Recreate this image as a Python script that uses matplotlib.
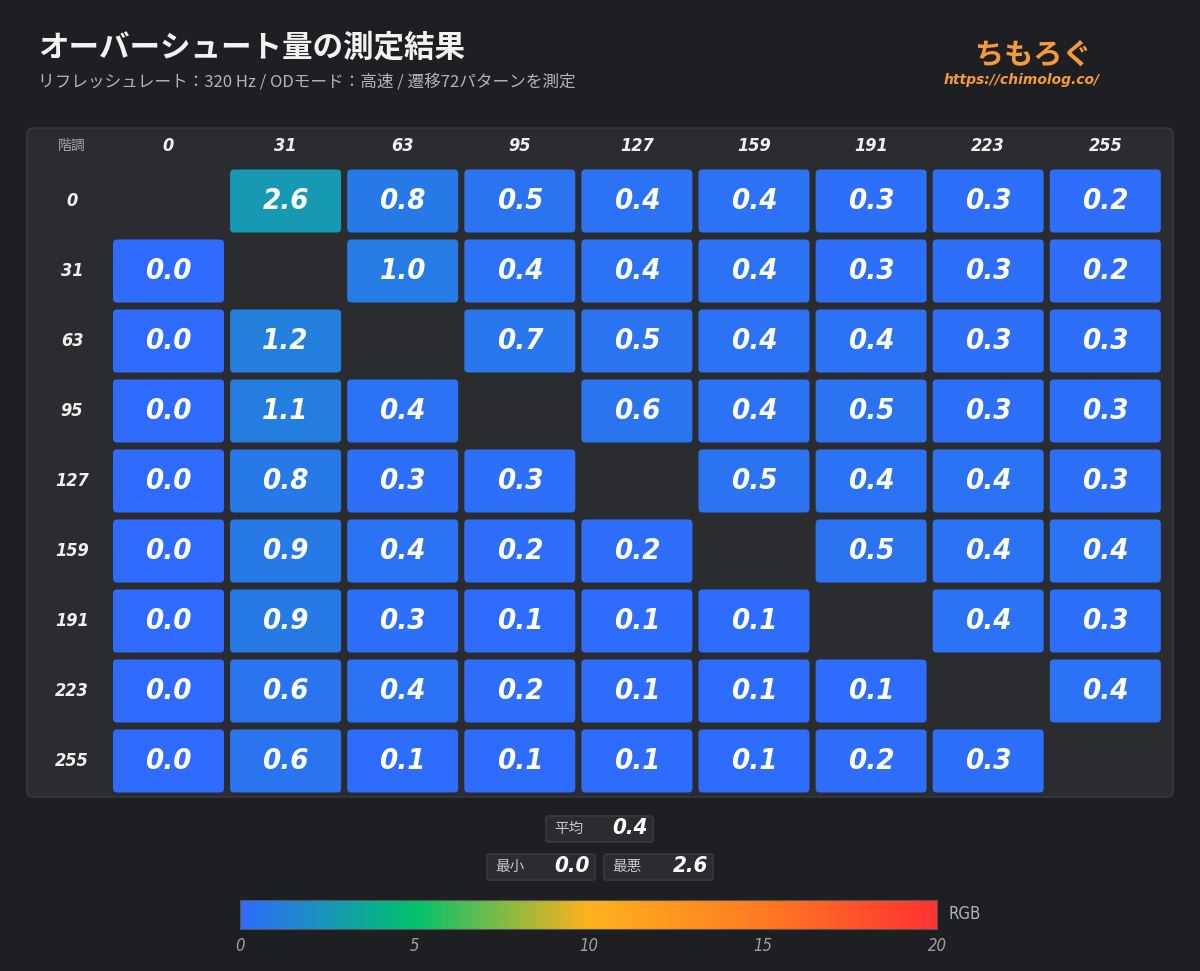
import numpy as np
import matplotlib
matplotlib.use("Agg")
import matplotlib.pyplot as plt
from matplotlib import font_manager
from matplotlib.colors import LinearSegmentedColormap, Normalize
from matplotlib.patches import FancyBboxPatch

levels = [0, 31, 63, 95, 127, 159, 191, 223, 255]
nan = np.nan
overshoot = [
    [nan, 2.6, 0.8, 0.5, 0.4, 0.4, 0.3, 0.3, 0.2],
    [0.0, nan, 1.0, 0.4, 0.4, 0.4, 0.3, 0.3, 0.2],
    [0.0, 1.2, nan, 0.7, 0.5, 0.4, 0.4, 0.3, 0.3],
    [0.0, 1.1, 0.4, nan, 0.6, 0.4, 0.5, 0.3, 0.3],
    [0.0, 0.8, 0.3, 0.3, nan, 0.5, 0.4, 0.4, 0.3],
    [0.0, 0.9, 0.4, 0.2, 0.2, nan, 0.5, 0.4, 0.4],
    [0.0, 0.9, 0.3, 0.1, 0.1, 0.1, nan, 0.4, 0.3],
    [0.0, 0.6, 0.4, 0.2, 0.1, 0.1, 0.1, nan, 0.4],
    [0.0, 0.6, 0.1, 0.1, 0.1, 0.1, 0.2, 0.3, nan],
]
cbar_ticks = [0, 5, 10, 15, 20]
title = "オーバーシュート量の測定結果"
subtitle = "リフレッシュレート：320 Hz / ODモード：高速 / 遷移72パターンを測定"

data = np.array(overshoot)
avg = np.nanmean(data)
vmin = np.nanmin(data)
vmax = np.nanmax(data)

# condensed font for numbers if there is one
cond = [f for f in font_manager.fontManager.ttflist if "ondensed" in f.fname or "Narrow" in f.name]
num_font = "DejaVu Sans"
num_stretch = "condensed" if cond else "normal"
jp = ["Noto Sans CJK JP", "DejaVu Sans"]

bg = "#1e1f22"
panel = "#2b2c2f"
cmap = LinearSegmentedColormap.from_list(
    "od", [(0, "#2f6bff"), (0.25, "#00c36e"), (0.5, "#ffb21e"), (0.75, "#ff7a22"), (1, "#ff3232")])
norm = Normalize(0, 20)

fig = plt.figure(figsize=(12, 9.71), dpi=100, facecolor=bg)
ax = fig.add_axes([0, 0, 1, 1])
ax.set_xlim(0, 1200)
ax.set_ylim(971, 0)
ax.axis("off")


def num(x, y, s, size, color="white", **kw):
    ax.text(x, y, s, family=num_font, fontstretch=num_stretch, fontsize=size,
            fontweight="bold", style="italic", color=color, **kw)


# title
ax.text(38, 48, title, family=jp, fontsize=22, fontweight="bold", color="#f2f2f2", va="center")
ax.text(38, 82, subtitle, family=jp, fontsize=12, color="#b4b4b4", va="center")
ax.text(1033, 55, "ちもろぐ", family=jp, fontsize=21, fontweight="bold", color="#f39a3c",
        ha="center", va="center")
ax.text(1022, 80, "https://chimolog.co/", family="DejaVu Sans", fontsize=10, fontweight="bold",
        style="italic", color="#f39a3c", ha="center", va="center")

# panel
ax.add_patch(FancyBboxPatch((27, 128), 1146, 669, boxstyle="round,pad=0,rounding_size=6",
                            fc=panel, ec="#3a3b3f", lw=1))

x0, dx = 168.5, 117.1
y0, dy = 201, 70
cw, ch = 111, 63
ax.text(72, 146, "階調", family=jp, fontsize=10, color="#a8a8a8", ha="center", va="center")
for j, lv in enumerate(levels):
    num(x0 + j * dx, 146, str(lv), 13, "#f0f0f0", ha="center", va="center")
for i, lv in enumerate(levels):
    yc = y0 + i * dy
    num(72, yc, str(lv), 13, "#f0f0f0", ha="center", va="center")
    for j in range(len(levels)):
        v = data[i, j]
        if np.isnan(v):
            continue
        xc = x0 + j * dx
        ax.add_patch(FancyBboxPatch((xc - cw / 2, yc - ch / 2), cw, ch,
                                    boxstyle="round,pad=0,rounding_size=4",
                                    fc=cmap(norm(v)), ec="none"))
        num(xc, yc, f"{v:.1f}", 21, ha="center", va="center")


# stats boxes
def stat_box(x, y, w, label, value):
    ax.add_patch(FancyBboxPatch((x, y), w, 26, boxstyle="round,pad=0,rounding_size=2",
                                fc="#2b2c2f", ec="#3c3d41", lw=1))
    ax.text(x + 8, y + 13, label, family=jp, fontsize=10.5, color="#c8c8c8", va="center")
    num(x + w - 5, y + 12, value, 16, ha="right", va="center")


stat_box(546, 816, 107, "平均", f"{avg:.1f}")
stat_box(487, 854, 108, "最小", f"{vmin:.1f}")
stat_box(604, 854, 109, "最悪", f"{vmax:.1f}")

# colorbar
cax = fig.add_axes([240 / 1200, 1 - 929 / 971, 697 / 1200, 29 / 971])
grad = np.linspace(0, 20, 512).reshape(1, -1)
cax.imshow(grad, aspect="auto", cmap=cmap, norm=norm, extent=[0, 20, 0, 1])
cax.set_yticks([])
cax.set_xticks(cbar_ticks)
cax.tick_params(length=0, pad=6, colors="#a0a0a0")
for lab in cax.get_xticklabels():
    lab.set_fontfamily(num_font)
    lab.set_fontstretch(num_stretch)
    lab.set_fontstyle("italic")
    lab.set_fontsize(12)
for s in cax.spines.values():
    s.set_color("#555555")
ax.text(948, 914, "RGB", family=num_font, fontstretch=num_stretch, fontsize=12,
        color="#b4b4b4", va="center")

fig.savefig("out.png", dpi=100, facecolor=bg)
